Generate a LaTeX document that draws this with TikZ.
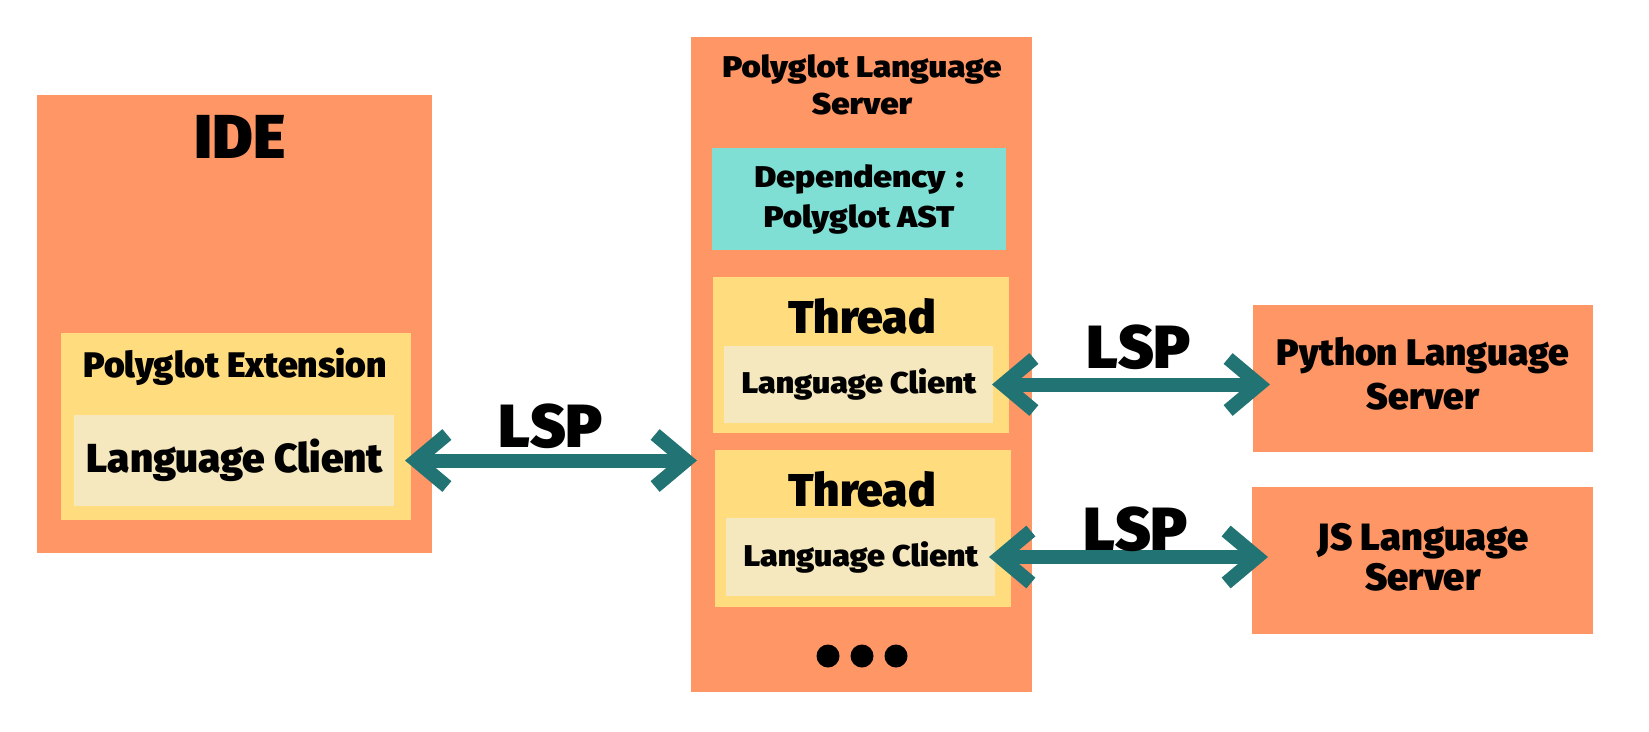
\documentclass[tikz,border=0pt]{standalone}
\usepackage{fontspec}
\setmainfont{Fira Sans}[BoldFont={Fira Sans Black}]
\usetikzlibrary{arrows.meta}
\definecolor{orng}{HTML}{FF9666}
\definecolor{yell}{HTML}{FFDD7F}
\definecolor{cream}{HTML}{F5E8BE}
\definecolor{aqua}{HTML}{80DFD4}
\definecolor{teal}{HTML}{227373}
\tikzset{
  box/.style={inner sep=0pt, outer sep=0pt, fill=#1, draw=none},
  txt/.style={inner sep=0pt, align=center, text=black, font=\bfseries\fontsize{#1}{#1}\selectfont},
  lsp/.style={draw=teal, line width=14pt, {Straight Barb[sharp,length=31pt,width=52pt]}-{Straight Barb[sharp,length=31pt,width=52pt]}},
  dot/.style={circle, fill=black, minimum size=23pt, inner sep=0pt}
}
\begin{document}
\begin{tikzpicture}[x=1pt,y=-1pt]
\useasboundingbox (0,0) rectangle (1649,731);
\fill[white] (0,0) rectangle (1649,731);
% IDE
\node[box=orng, minimum width=395pt, minimum height=458pt] (ide) at (234.5,324) {};
\node[txt=62] (idet) at (240,137) {IDE};
\node[box=yell, minimum width=350pt, minimum height=187pt] (ext) at (236,426.5) {};
\node[txt=35.5] (extt) at (235,367) {Polyglot Extension};
\node[box=cream, minimum width=320pt, minimum height=91pt] (lc) at (234,460.5) {};
\node[txt=40.5] (lct) at (235,460) {Language Client};
% server
\node[box=orng, minimum width=341pt, minimum height=655pt] (srv) at (861.5,364.5) {};
\node[txt=29, font=\bfseries\fontsize{30}{37}\selectfont] (srvt) at (862,84.5) {\scalebox{1.1}[1]{Polyglot Language}\\\scalebox{1.1}[1]{Server}};
\node[box=aqua, minimum width=294pt, minimum height=102pt] (dep) at (859,199) {};
\node[txt=29, font=\bfseries\fontsize{30}{40}\selectfont] (dept) at (859,199) {\scalebox{1.12}[1]{Dependency\hspace{0.3em}:}\\\scalebox{1.1}[1]{Polyglot AST}};
\node[box=yell, minimum width=296pt, minimum height=156pt] (th1) at (861,355) {};
\node[txt=46] (th1t) at (862,316) {Thread};
\node[box=cream, minimum width=269pt, minimum height=77pt] (lc1) at (858.5,384.5) {};
\node[txt=30] (lc1t) at (859,384) {\scalebox{1.07}[1]{Language Client}};
\node[box=yell, minimum width=296pt, minimum height=157pt] (th2) at (863,528.5) {};
\node[txt=46] (th2t) at (862,489) {Thread};
\node[box=cream, minimum width=269pt, minimum height=78pt] (lc2) at (860.5,557) {};
\node[txt=30] (lc2t) at (861,557) {\scalebox{1.07}[1]{Language Client}};
\node[dot] (d1) at (828,656) {};
\node[dot] (d2) at (862,656) {};
\node[dot] (d3) at (896,656) {};
% right servers
\node[box=orng, minimum width=340pt, minimum height=147pt] (py) at (1423,378.5) {};
\node[txt=37, font=\bfseries\fontsize{37}{44}\selectfont] (pyt) at (1423,374) {Python Language\\Server};
\node[box=orng, minimum width=341pt, minimum height=147pt] (js) at (1422.5,560.5) {};
\node[txt=38, font=\bfseries\fontsize{38}{40}\selectfont] (jst) at (1423,557) {JS Language\\Server};
% connectors
\draw[lsp, shorten <=11pt, shorten >=-6pt] (lc.east) -- (lc.east -| srv.west);
\node[txt=61] (l1) at (551,426) {LSP};
\draw[lsp, shorten <=-1pt, shorten >=-17pt] (lc1.east) -- (lc1.east -| py.west);
\node[txt=61] (l2) at (1139,347) {LSP};
\draw[lsp, shorten <=-6pt, shorten >=-16pt] (lc2.east) -- (lc2.east -| js.west);
\node[txt=61] (l3) at (1136,529) {LSP};
\end{tikzpicture}
\end{document}
